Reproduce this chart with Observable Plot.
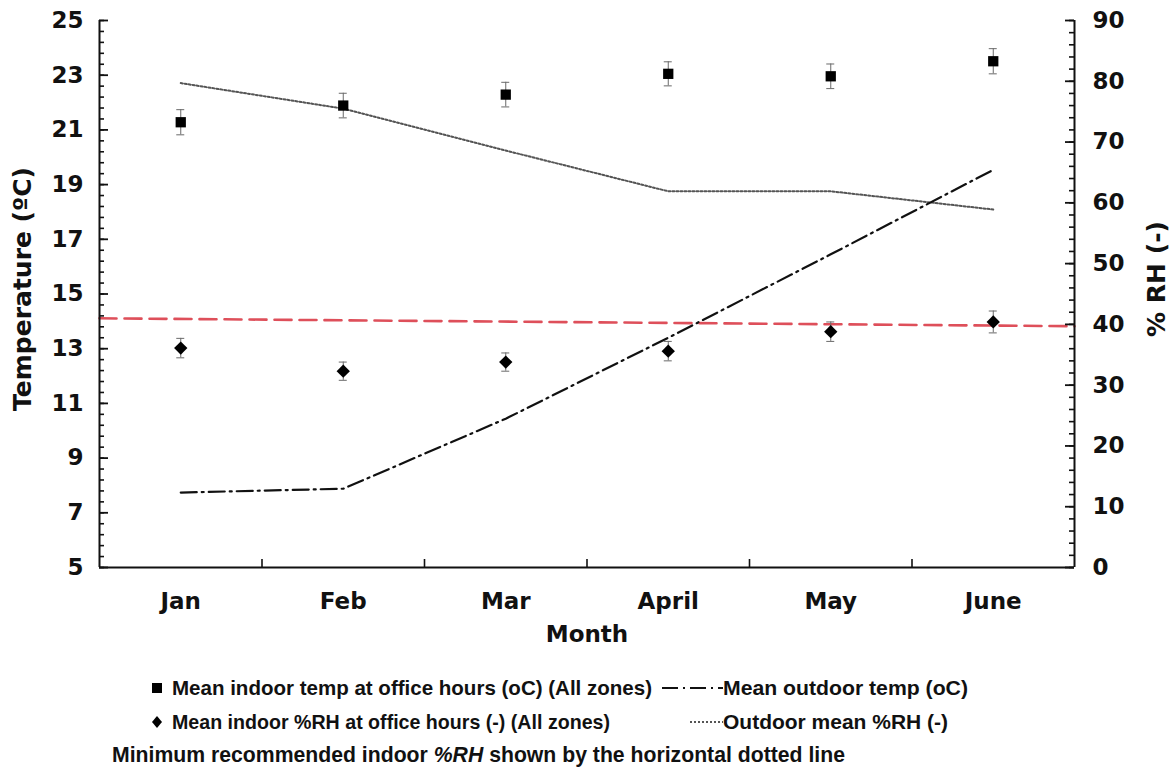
<!DOCTYPE html>
<html><head><meta charset="utf-8">
<script src="https://cdn.jsdelivr.net/npm/d3@7"></script>
<script src="https://cdn.jsdelivr.net/npm/@observablehq/plot@0.6"></script>
<style>
html,body{margin:0;padding:0;background:#fff}
body{width:1174px;height:772px;overflow:hidden;position:relative}
#chart{position:absolute;left:0;top:0}
.leg{position:absolute;font-family:"Liberation Sans",Arial,sans-serif;font-weight:bold;font-size:21px;color:#111;white-space:nowrap;line-height:1;transform-origin:0 50%}
.sym{position:absolute}
</style></head><body>
<div id="chart"></div>
<div id="legend"></div>
<script>
// ---- data ----
const months = ["Jan","Feb","Mar","April","May","June"];
const indoorTemp = [21.28, 21.89, 22.29, 23.05, 22.96, 23.51];
const indoorTempErr = [0.46, 0.45, 0.45, 0.44, 0.45, 0.46];
const outdoorTemp = [7.74, 7.88, 10.44, 13.4, 16.45, 19.54];
const indoorRH = [36.1, 32.3, 33.8, 35.6, 38.8, 40.4];
const indoorRHErr = [1.6, 1.5, 1.5, 1.6, 1.6, 1.8];
const outdoorRH = [79.7, 75.5, 68.6, 61.9, 61.9, 58.9];
const minRHEnds = [41.0, 39.7];
const tempTicks = [5,7,9,11,13,15,17,19,21,23,25];
const rhTicks = [0,10,20,30,40,50,60,70,80,90];

// ---- helpers ----
const rh2t = rh => 5 + rh * 20 / 90;
const rows = months.map((m, i) => ({
  x: i + 0.5, month: m,
  it: indoorTemp[i], itLo: indoorTemp[i] - indoorTempErr[i], itHi: indoorTemp[i] + indoorTempErr[i],
  ot: outdoorTemp[i],
  irh: rh2t(indoorRH[i]), irhLo: rh2t(indoorRH[i] - indoorRHErr[i]), irhHi: rh2t(indoorRH[i] + indoorRHErr[i]),
  orh: rh2t(outdoorRH[i])
}));
const minLine = [{x: 0, y: rh2t(minRHEnds[0])}, {x: months.length, y: rh2t(minRHEnds[1])}];
const leftMinor = d3.range(0, 51).map(i => 5 + i * 0.4);
const rightMinor = d3.range(0, 46).map(i => rh2t(i * 2));
const rightMajor = rhTicks.map(rh2t);
const sepTicks = d3.range(1, months.length);

const font = "'DejaVu Sans', sans-serif";
const txt = {fontSize: 23, fontWeight: "bold", fontFamily: font, fill: "#111"};
const ttl = {...txt, fontSize: 25};
const errStyle = {stroke: "#6a6a6a", strokeWidth: 1};
const dashDot = "16,5,2,5";
const dotted = "2,2";

const chart = Plot.plot({
  width: 1174, height: 650,
  marginLeft: 99, marginRight: 100, marginTop: 20, marginBottom: 83,
  x: {domain: [0, months.length], axis: null},
  y: {domain: [5, 25], axis: null},
  style: {background: "white", color: "#111", fontFamily: font},
  marks: [
    Plot.line(minLine, {x: "x", y: "y", stroke: "#de4f5a", strokeWidth: 2.6, strokeDasharray: "17,8"}),
    Plot.line(rows, {x: "x", y: "orh", stroke: "#555", strokeWidth: 2, strokeDasharray: dotted}),
    Plot.line(rows, {x: "x", y: "ot", stroke: "#111", strokeWidth: 2.2, strokeDasharray: dashDot}),
    Plot.ruleX(rows, {x: "x", y1: "itLo", y2: "itHi", ...errStyle}),
    Plot.ruleY(rows, {x1: "x", x2: "x", y: "itLo", insetLeft: -4, insetRight: -4, ...errStyle}),
    Plot.ruleY(rows, {x1: "x", x2: "x", y: "itHi", insetLeft: -4, insetRight: -4, ...errStyle}),
    Plot.ruleX(rows, {x: "x", y1: "irhLo", y2: "irhHi", ...errStyle}),
    Plot.ruleY(rows, {x1: "x", x2: "x", y: "irhLo", insetLeft: -4, insetRight: -4, ...errStyle}),
    Plot.ruleY(rows, {x1: "x", x2: "x", y: "irhHi", insetLeft: -4, insetRight: -4, ...errStyle}),
    Plot.dot(rows, {x: "x", y: "it", symbol: "square", r: 5.8, fill: "#000"}),
    Plot.dot(rows, {x: "x", y: "irh", symbol: "diamond2", r: 6, fill: "#000"}),
    Plot.ruleX([0, months.length], {stroke: "#111", strokeWidth: 2}),
    Plot.ruleY([5], {stroke: "#111", strokeWidth: 2}),
    Plot.ruleY(leftMinor, {y: d => d, x1: 0, x2: 0, insetRight: -5, stroke: "#111", strokeWidth: 1.6}),
    Plot.ruleY(tempTicks, {y: d => d, x1: 0, x2: 0, insetRight: -9, stroke: "#111", strokeWidth: 1.8}),
    Plot.ruleY(rightMinor, {y: d => d, x1: months.length, x2: months.length, insetLeft: -5, stroke: "#111", strokeWidth: 1.6}),
    Plot.ruleY(rightMajor, {y: d => d, x1: months.length, x2: months.length, insetLeft: -9, stroke: "#111", strokeWidth: 1.8}),
    Plot.ruleX(sepTicks, {x: d => d, y1: 5, y2: 5, insetTop: -8, stroke: "#111", strokeWidth: 1.6}),
    Plot.text(tempTicks, {x: 0, y: d => d, text: d => String(d), dx: -16, textAnchor: "end", ...txt}),
    Plot.text(rhTicks, {x: months.length, y: d => rh2t(d), text: d => String(d), dx: 18, textAnchor: "start", ...txt}),
    Plot.text(rows, {x: "x", y: 5, text: "month", dy: 34, ...txt}),
    Plot.text(["Month"], {x: months.length / 2, y: 5, dy: 67, ...txt}),
    Plot.text(["Temperature (ºC)"], {x: 0, y: 15, dx: -77, dy: -5, rotate: -90, ...ttl}),
    Plot.text(["% RH (-)"], {x: months.length, y: 15, dx: 82, dy: -15, rotate: -90, ...ttl})
  ]
});
document.getElementById("chart").appendChild(chart);

// ---- legend (HTML below the plot) ----
const legendItems = [
  {label: "Mean indoor temp at office hours (oC) (All zones)", kind: "square", sx: 157, tx: 172, cy: 688, w: 480},
  {label: "Mean outdoor temp (oC)", kind: "dashdot", sx: 662, tx: 723, cy: 688, w: 245},
  {label: "Mean indoor %RH at office hours (-) (All zones)", kind: "diamond", sx: 157, tx: 172, cy: 722, w: 438},
  {label: "Outdoor mean %RH (-)", kind: "dotted", sx: 690, tx: 723, cy: 722, w: 225}
];
const leg = d3.select("#legend");
function fit(div, w) {
  const nw = div.node().getBoundingClientRect().width;
  div.style("transform", `scaleX(${w / nw})`);
}
for (const it of legendItems) {
  if (it.kind === "square" || it.kind === "diamond") {
    const s = leg.append("svg").attr("class", "sym").attr("width", 20).attr("height", 20)
      .style("left", (it.sx - 10) + "px").style("top", (it.cy - 10) + "px");
    if (it.kind === "square") s.append("rect").attr("x", 5).attr("y", 5).attr("width", 10).attr("height", 10).attr("fill", "#000");
    else s.append("path").attr("d", "M10,4L15,10L10,16L5,10Z").attr("fill", "#000");
  } else {
    const len = it.tx - it.sx;
    const s = leg.append("svg").attr("class", "sym").attr("width", len).attr("height", 20)
      .style("left", it.sx + "px").style("top", (it.cy - 10) + "px");
    s.append("line").attr("x1", 0).attr("x2", len).attr("y1", 10).attr("y2", 10)
      .attr("stroke", it.kind === "dashdot" ? "#111" : "#555").attr("stroke-width", 2)
      .attr("stroke-dasharray", it.kind === "dashdot" ? dashDot : dotted);
  }
  const d = leg.append("div").attr("class", "leg").style("left", it.tx + "px").style("top", (it.cy - 11) + "px").text(it.label);
  fit(d, it.w);
}
const note = leg.append("div").attr("class", "leg").style("left", "112px").style("top", "744px").style("font-size", "22px")
  .html("Minimum recommended indoor <i>%RH</i> shown by the horizontal dotted line");
fit(note, 733);
</script>
</body></html>
